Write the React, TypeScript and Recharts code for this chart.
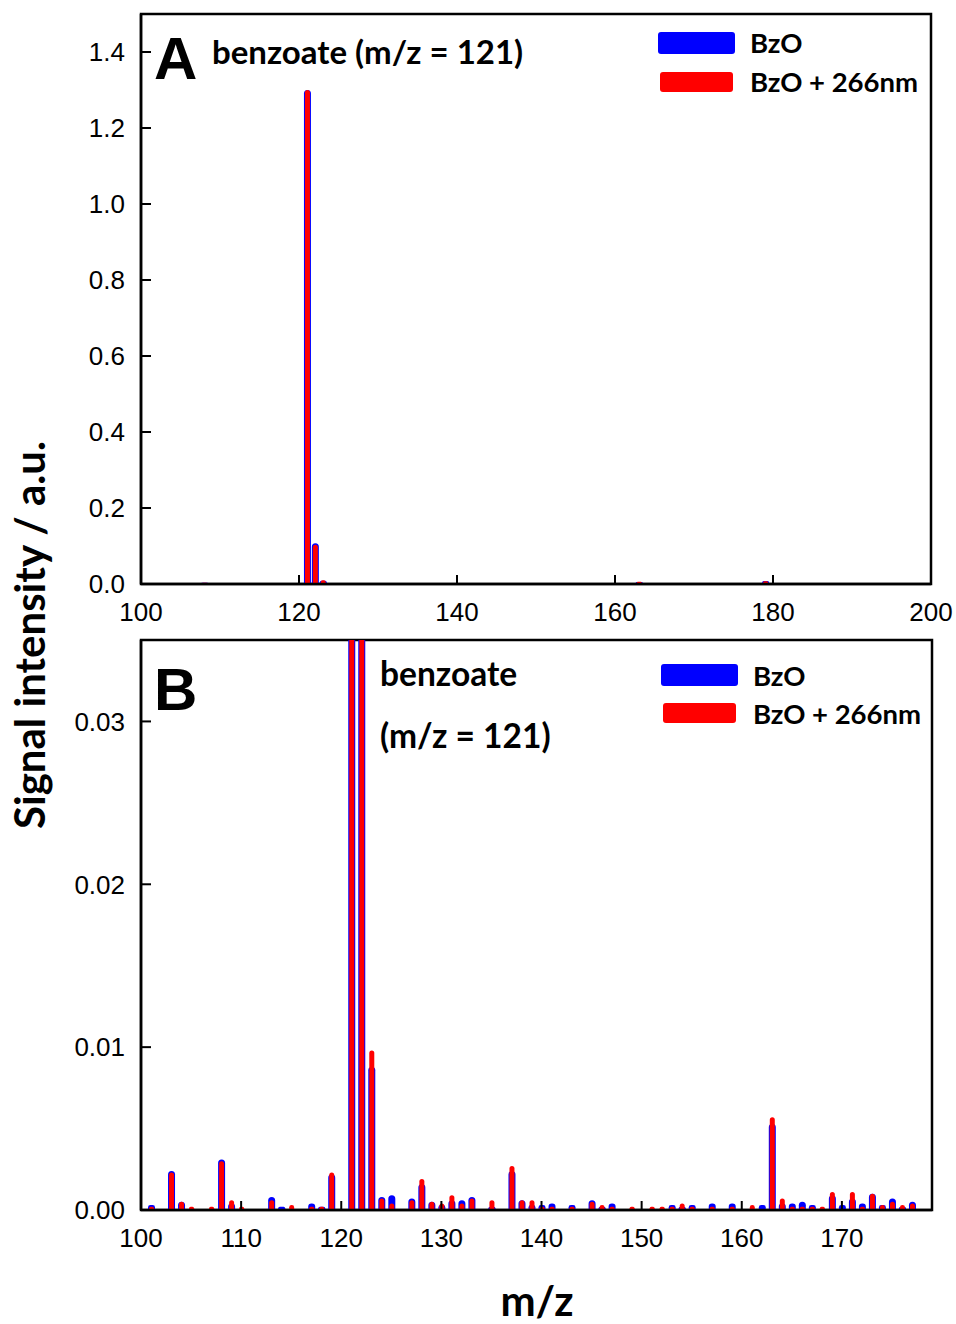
import { BarChart, Bar, XAxis, YAxis, Legend, ReferenceArea } from 'recharts';

// m/z channels that carry a visible signal
const MZ = [
  101, 103, 104, 105, 107, 108, 109, 110, 113, 114, 115, 117, 118, 119,
  121, 122, 123, 124, 125, 127, 128, 129, 130, 131, 132, 133, 135, 137,
  138, 139, 140, 141, 143, 145, 146, 147, 149, 151, 152, 153, 154, 155,
  157, 159, 161, 162, 163, 164, 165, 166, 167, 168, 169, 170, 171, 172,
  173, 174, 175, 176, 177, 179,
];

const BZO = [
  0.0003, 0.0024, 0.0005, null, null, 0.0031, 0.0004, null, 0.0008, 0.0002, null, 0.0004, 0.0002, 0.0022,
  1.30, 0.107, 0.0088, 0.0008, 0.0009, 0.0007, 0.0016, 0.0005, 0.0003, 0.0006, 0.0006, 0.0008, 0.0002, 0.0024,
  0.0006, 0.0003, 0.0003, 0.0004, 0.0003, 0.0006, 0.0002, 0.0004, null, null, null, 0.0003, 0.0002, 0.0003,
  0.0004, 0.0004, null, 0.0003, 0.0053, 0.0004, 0.0004, 0.0005, 0.0003, null, 0.0009, 0.0003, 0.0007, 0.0004,
  0.0010, 0.0003, 0.0007, 0.0002, 0.0005, 0.008,
];

const BZO_266 = [
  0.0002, 0.0023, 0.0005, 0.0002, 0.0002, 0.0030, 0.0006, 0.0002, 0.0006, null, 0.0003, 0.0002, 0.0002, 0.0023,
  1.30, 0.103, 0.0098, 0.0007, 0.0004, 0.0006, 0.0019, 0.0005, 0.0004, 0.0009, 0.0004, 0.0007, 0.0006, 0.0027,
  0.0006, 0.0006, 0.0002, 0.0002, 0.0002, 0.0005, 0.0003, 0.0002, 0.0002, 0.0002, 0.0002, 0.0002, 0.0004, 0.0002,
  0.0002, 0.0002, 0.0003, null, 0.0057, 0.0007, 0.0002, 0.0002, 0.0002, 0.0002, 0.0011, null, 0.0011, 0.0002,
  0.0010, 0.0003, 0.0005, 0.0003, 0.0004, 0.007,
];

const X_TICKS_A = [100, 120, 140, 160, 180, 200];
const Y_TICKS_A = [0, 0.2, 0.4, 0.6, 0.8, 1.0, 1.2, 1.4];
const X_TICKS_B = [100, 110, 120, 130, 140, 150, 160, 170];
const Y_TICKS_B = [0, 0.01, 0.02, 0.03];

const rows = MZ.map((mz, i) => ({ mz, bzo: BZO[i], bzo266: BZO_266[i] }));
const rowsB = rows.filter(r => r.mz <= 177);

const BOLD = 'Lato, "Open Sans", sans-serif';
const tickFont = { fontFamily: '"Liberation Sans", Arial, sans-serif', fontSize: 26, fill: '#000' };
const axisLine = { stroke: '#000', strokeWidth: 2.5 };
const tickLine = { stroke: '#000', strokeWidth: 2 };

function SwatchLegend(props: any) {
  const { payload, rowHeight } = props;
  return (
    <div style={{ fontFamily: BOLD, fontWeight: 700, fontSize: 27.5, color: '#000' }}>
      {(payload || []).map((p: any, i: number) => (
        <div key={i} style={{ display: 'flex', alignItems: 'center', height: rowHeight }}>
          <div
            style={{
              width: i === 0 ? 77 : 73,
              height: i === 0 ? 22 : 20,
              marginLeft: i === 0 ? 0 : 2,
              marginRight: i === 0 ? 15 : 17,
              background: p.color,
              borderRadius: 3,
            }}
          />
          <span>{p.value}</span>
        </div>
      ))}
    </div>
  );
}

export default function App() {
  return (
    <div style={{ position: 'absolute', left: 0, top: 0, width: 956, height: 1324, background: '#fff' }}>
      {/* panel A */}
      <div style={{ position: 'absolute', left: 0, top: 0 }}>
        <BarChart width={956} height={640} data={rows} margin={{ top: 14, right: 25, bottom: 16, left: 81 }} barGap={-6}>
          <XAxis dataKey="mz" type="number" domain={[100, 200]} ticks={X_TICKS_A} interval={0} allowDataOverflow
            height={40} tickSize={-9} tickMargin={28} tick={tickFont} axisLine={axisLine} tickLine={tickLine} />
          <YAxis type="number" domain={[0, 1.5]} ticks={Y_TICKS_A} interval={0} allowDataOverflow width={60}
            tickSize={-10} tickMargin={26} tick={tickFont} axisLine={axisLine} tickLine={tickLine}
            tickFormatter={(v: number) => v.toFixed(1)} />
          <ReferenceArea x1={100} x2={200} y1={0} y2={1.5} fill="none" stroke="#000" strokeWidth={2.5} ifOverflow="visible" />
          <Legend layout="vertical" align="center" verticalAlign="middle"
            wrapperStyle={{ position: 'absolute', left: 658, top: 23, width: 280 }}
            content={(p: any) => <SwatchLegend {...p} rowHeight={39} />} />
          <Bar dataKey="bzo" name="BzO" fill="#0000ff" barSize={7} radius={[3.5, 3.5, 0, 0]} isAnimationActive={false} />
          <Bar dataKey="bzo266" name="BzO + 266nm" fill="#ff0000" barSize={5} radius={[2.5, 2.5, 0, 0]} isAnimationActive={false} />
        </BarChart>
      </div>

      {/* panel B */}
      <div style={{ position: 'absolute', left: 0, top: 620 }}>
        <BarChart width={956} height={704} data={rowsB} margin={{ top: 20, right: 24, bottom: 74, left: 81 }} barGap={-6}>
          <XAxis dataKey="mz" type="number" domain={[100, 179]} ticks={X_TICKS_B} interval={0} allowDataOverflow
            height={40} tickSize={-9} tickMargin={28} tick={tickFont} axisLine={axisLine} tickLine={tickLine} />
          <YAxis type="number" domain={[0, 0.035]} ticks={Y_TICKS_B} interval={0} allowDataOverflow width={60}
            tickSize={-10} tickMargin={26} tick={tickFont} axisLine={axisLine} tickLine={tickLine}
            tickFormatter={(v: number) => v.toFixed(2)} />
          <ReferenceArea x1={100} x2={179} y1={0} y2={0.035} fill="none" stroke="#000" strokeWidth={2.5} ifOverflow="visible" />
          <Legend layout="vertical" align="center" verticalAlign="middle"
            wrapperStyle={{ position: 'absolute', left: 661, top: 36, width: 280 }}
            content={(p: any) => <SwatchLegend {...p} rowHeight={38} />} />
          <Bar dataKey="bzo" name="BzO" fill="#0000ff" barSize={7} radius={[3.5, 3.5, 0, 0]} isAnimationActive={false} />
          <Bar dataKey="bzo266" name="BzO + 266nm" fill="#ff0000" barSize={5} radius={[2.5, 2.5, 0, 0]} isAnimationActive={false} />
        </BarChart>
      </div>

      {/* panel letters, annotations and axis titles */}
      <svg width={956} height={1324} style={{ position: 'absolute', left: 0, top: 0, pointerEvents: 'none' }}>
        <g fontFamily='"Liberation Sans", Arial, sans-serif' fontWeight={700} fontSize={60} fill="#000">
          <text x={154} y={79}>A</text>
          <text x={154} y={710}>B</text>
        </g>
        <g fontFamily={BOLD} fontWeight={700} fill="#000">
          <text x={212} y={64} fontSize={33}>benzoate (m/z = 121)</text>
          <text x={380} y={686} fontSize={33.5}>benzoate</text>
          <text x={380} y={748} fontSize={33.5}>(m/z = 121)</text>
          <text x={45} y={635} fontSize={42} textAnchor="middle" transform="rotate(-90 45 635)">
            Signal intensity / a.u.
          </text>
          <text x={537} y={1316} fontSize={42} textAnchor="middle">m/z</text>
        </g>
      </svg>
    </div>
  );
}
